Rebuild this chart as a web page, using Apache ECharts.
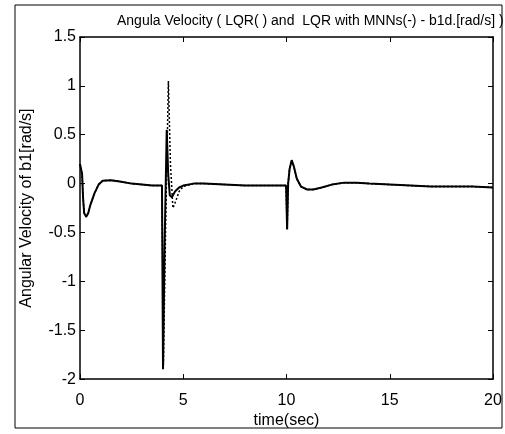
<!DOCTYPE html>
<html>
<head>
<meta charset="utf-8">
<script src="https://cdn.jsdelivr.net/npm/echarts@6/dist/echarts.min.js"></script>
<style>html,body{margin:0;padding:0;background:#fff}#c{width:505px;height:434px}</style>
</head>
<body>
<div id="c"></div>
<script>
const titleText = 'Angula Velocity ( LQR( ) and  LQR with MNNs(-) - b1d.[rad/s] )';
const xName = 'time(sec)';
const yName = 'Angular Velocity of b1[rad/s]';
const yTickLabels = {'1.5':'1.5','1':'1','0.5':'0.5','0':'0','-0.5':'-0.5','-1':'-1','-1.5':'-1.5','-2':'-2'};

// LQR with MNNs (solid)
const tSolid = [0,0.05,0.1,0.15,0.2,0.3,0.4,0.5,0.7,0.9,1.1,1.5,2.0,2.5,3.0,3.5,3.97,4.02,4.1,4.2,4.27,4.35,4.45,4.6,4.8,5.0,5.5,6,7,8,9,9.98,10.03,10.08,10.15,10.25,10.35,10.5,10.7,11.0,11.3,11.7,12.2,12.8,13.4,14,15,16,17,18,19,20];
const vSolid = [0.2,0.22,0.1,-0.15,-0.3,-0.34,-0.3,-0.22,-0.1,-0.01,0.03,0.035,0.02,0.0,-0.01,-0.02,-0.02,-1.9,-0.6,0.55,0.1,-0.12,-0.14,-0.08,-0.04,-0.02,0.0,0.0,-0.01,-0.02,-0.02,-0.02,-0.47,0.0,0.15,0.24,0.18,0.05,-0.03,-0.06,-0.06,-0.04,-0.01,0.01,0.01,0.0,-0.01,-0.02,-0.03,-0.03,-0.03,-0.04];

// LQR (dotted)
const tDotted = [0,0.05,0.1,0.15,0.2,0.3,0.4,0.5,0.7,0.9,1.1,1.5,2.0,2.5,3.0,3.5,3.97,4.04,4.15,4.28,4.38,4.5,4.6,4.8,5.0,5.5,6,7,8,9,9.98,10.03,10.08,10.15,10.25,10.35,10.5,10.7,11.0,11.3,11.7,12.2,12.8,13.4,14,15,16,17,18,19,20];
const vDotted = [0.2,0.22,0.1,-0.15,-0.3,-0.34,-0.3,-0.22,-0.1,-0.01,0.03,0.035,0.02,0.0,-0.01,-0.02,-0.02,-1.85,-0.4,1.05,0.2,-0.25,-0.2,-0.08,-0.03,0.0,0.0,-0.01,-0.02,-0.02,-0.02,-0.47,0.0,0.15,0.24,0.18,0.05,-0.03,-0.06,-0.06,-0.04,-0.01,0.01,0.01,0.0,-0.01,-0.02,-0.03,-0.03,-0.03,-0.04];

const pair = (ts, vs) => ts.map((t, i) => [t, vs[i]]);
const font = 'Liberation Sans, Arial, sans-serif';

const chart = echarts.init(document.getElementById('c'), null, {renderer: 'canvas'});
const axisCommon = () => ({
  axisLine: {show: true, onZero: false, lineStyle: {color: '#000', width: 1.5}},
  axisTick: {show: true, inside: true, length: 5, lineStyle: {color: '#000'}},
  splitLine: {show: false}
});
chart.setOption({
  animation: false,
  backgroundColor: '#fff',
  title: {
    text: titleText, left: 112, top: 9,
    textStyle: {fontFamily: font, fontSize: 14, fontWeight: 'normal', color: '#000'}
  },
  grid: {left: 80, right: 12, top: 37, bottom: 50, show: false},
  xAxis: [
    Object.assign({type: 'value', min: 0, max: 20, interval: 5, position: 'bottom',
      name: xName, nameLocation: 'middle', nameGap: 33,
      nameTextStyle: {fontFamily: font, fontSize: 16, color: '#000'},
      axisLabel: {fontFamily: font, fontSize: 16, color: '#000', margin: 13}}, axisCommon()),
    Object.assign({type: 'value', min: 0, max: 20, interval: 5, position: 'top',
      axisLabel: {show: false}}, axisCommon())
  ],
  yAxis: [
    Object.assign({type: 'value', min: -2, max: 1.5, interval: 0.5, position: 'left',
      name: yName, nameLocation: 'middle', nameGap: 45,
      nameTextStyle: {fontFamily: font, fontSize: 16, color: '#000'},
      axisLabel: {fontFamily: font, fontSize: 16, color: '#000', margin: 4,
        formatter: v => yTickLabels[String(v)] || String(v)}}, axisCommon()),
    Object.assign({type: 'value', min: -2, max: 1.5, interval: 0.5, position: 'right',
      axisLabel: {show: false}}, axisCommon())
  ],
  graphic: [{
    type: 'rect', shape: {x: 15, y: 5, width: 487, height: 423},
    style: {fill: 'none', stroke: '#000', lineWidth: 1}, z: -1
  }],
  series: [
    {type: 'line', name: 'LQR', data: pair(tDotted, vDotted), showSymbol: false,
      lineStyle: {color: '#000', width: 1.5, type: [2, 2]}, z: 2},
    {type: 'line', name: 'LQR with MNNs', data: pair(tSolid, vSolid), showSymbol: false,
      lineStyle: {color: '#000', width: 2}, z: 3}
  ]
});
</script>
</body>
</html>
